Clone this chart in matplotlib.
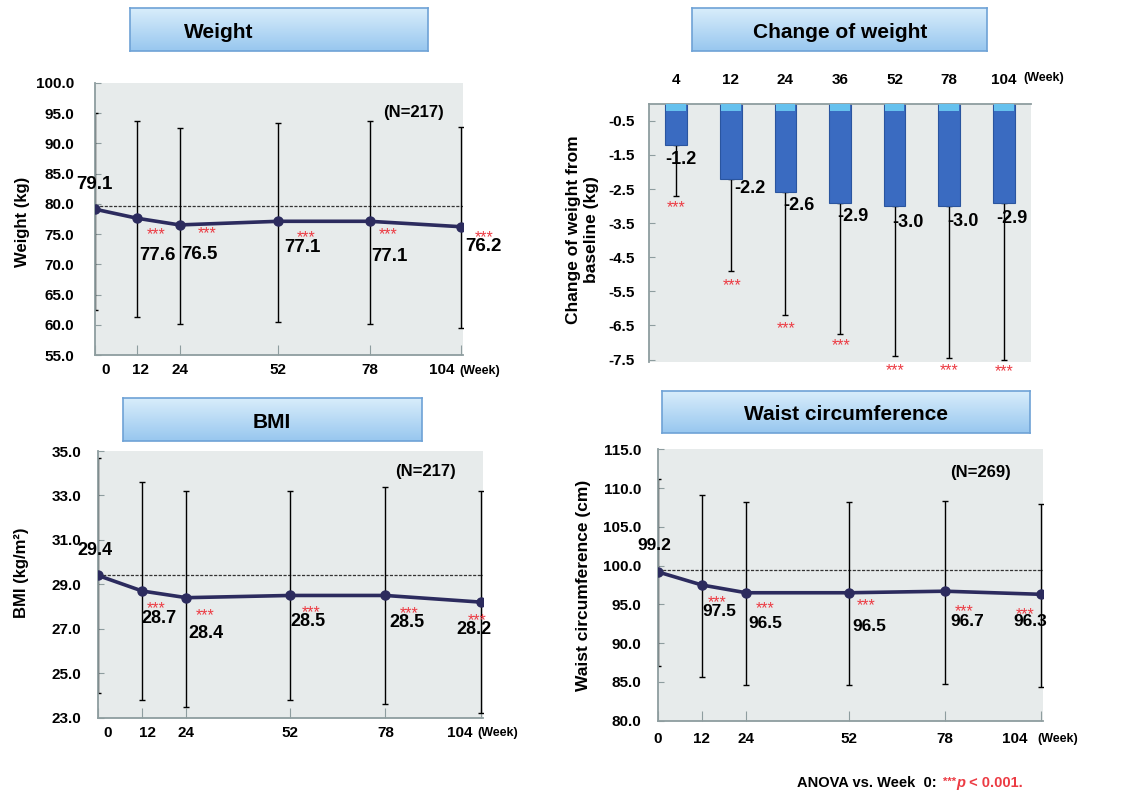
import numpy as np
import matplotlib
matplotlib.use('Agg')
import matplotlib.pyplot as plt
from matplotlib.colors import LinearSegmentedColormap
from matplotlib.transforms import ScaledTranslation

# --- Data ---
WEEKS = [0, 12, 24, 52, 78, 104]

WEIGHT_MEAN = [79.1, 77.6, 76.5, 77.1, 77.1, 76.2]
WEIGHT_LOW = [62.4, 61.3, 60.2, 60.5, 60.2, 59.4]
WEIGHT_HIGH = [95.0, 93.6, 92.6, 93.4, 93.6, 92.7]
WEIGHT_REF = 79.6

BMI_MEAN = [29.4, 28.7, 28.4, 28.5, 28.5, 28.2]
BMI_LOW = [24.1, 23.8, 23.5, 23.8, 23.6, 23.2]
BMI_HIGH = [34.7, 33.6, 33.2, 33.2, 33.4, 33.2]
BMI_REF = 29.4

WAIST_MEAN = [99.2, 97.5, 96.5, 96.5, 96.7, 96.3]
WAIST_LOW = [87.1, 85.7, 84.6, 84.6, 84.7, 84.3]
WAIST_HIGH = [111.2, 109.1, 108.2, 108.2, 108.3, 108.0]
WAIST_REF = 99.4

CHANGE_WEEKS = ['4', '12', '24', '36', '52', '78', '104']
CHANGE_MEAN = [-1.2, -2.2, -2.6, -2.9, -3.0, -3.0, -2.9]
CHANGE_LOW = [-2.7, -4.9, -6.2, -6.75, -7.4, -7.45, -7.5]

# --- Style ---
W, H = 1127, 792
plt.rcParams['font.family'] = ['Liberation Sans', 'DejaVu Sans']
plt.rcParams['font.weight'] = 'bold'
plt.rcParams['axes.unicode_minus'] = False

BG = '#e7ebeb'
SPINE = '#8e9d9f'
LINE = '#2c2b5e'
STAR = '#ec3b43'
BAR = '#3a6bc1'
BAR_EDGE = '#2a559f'
BAR_TOP = '#66c1ee'
STAR_FS = 11.5
STAR_SHIFT = 5  # asterisks sit high in the text box


def fig_rect(x0, y0, x1, y1):
    return [x0 / W, 1 - y1 / H, (x1 - x0) / W, (y1 - y0) / H]


def annotate_points(ax, xs, ys, texts, offsets, shift=0, **kw):
    for x, y, s, off in zip(xs, ys, texts, offsets):
        if off is None:
            continue
        ax.annotate(s, (x, y), xytext=(off[0], -(off[1] + shift)),
                    textcoords='offset pixels', ha='center', va='center',
                    annotation_clip=False, **kw)


def title_box(fig, rect, text, tx):
    ax = fig.add_axes(fig_rect(*rect))
    cmap = LinearSegmentedColormap.from_list('box', ['#d8edfb', '#98c7ef'])
    ax.imshow(np.linspace(0, 1, 64).reshape(-1, 1), cmap=cmap, aspect='auto',
              extent=[0, 1, 0, 1])
    ax.set_xticks([])
    ax.set_yticks([])
    for sp in ax.spines.values():
        sp.set_color('#6ea2d6')
        sp.set_linewidth(1.2)
    ax.text(tx, 0.43, text, ha='center', va='center', fontsize=15,
            fontweight='bold', transform=ax.transAxes)


def line_panel(ax, mean, low, high, ref, ylim, yticks, label_fs,
               label_off, star_off, xlab_shift, ytick_pad, xtick_pad, week_off):
    ax.set_facecolor(BG)
    mean = np.array(mean)
    yerr = [mean - np.array(low), np.array(high) - mean]
    ax.errorbar(WEEKS, mean, yerr=yerr, fmt='none', ecolor='black',
                elinewidth=1.0, capsize=2.5, capthick=1.0, zorder=2)
    ax.axhline(ref, color='#333333', lw=0.9, ls=(0, (2.5, 1.2)), zorder=1)
    ax.plot(WEEKS, mean, color=LINE, lw=2.6, marker='o', ms=6.5, zorder=3)

    ax.set_xlim(0, 104.5)
    ax.set_ylim(*ylim)
    ax.set_yticks(yticks, labels=[f'{t:.1f}' for t in yticks])
    ax.set_xticks(WEEKS, labels=[str(w) for w in WEEKS])
    for sp in ['top', 'right']:
        ax.spines[sp].set_visible(False)
    for sp in ['left', 'bottom']:
        ax.spines[sp].set_color(SPINE)
        ax.spines[sp].set_linewidth(1.3)
    ax.tick_params(axis='y', direction='in', length=4, color=SPINE,
                   labelsize=11, pad=ytick_pad)
    ax.tick_params(axis='x', direction='in', length=7, color=SPINE,
                   labelsize=11, pad=xtick_pad)
    for lab, dx in zip(ax.get_xticklabels(), xlab_shift):
        lab.set_transform(lab.get_transform() +
                          ScaledTranslation(dx / 100, 0, ax.figure.dpi_scale_trans))

    annotate_points(ax, WEEKS, mean, [f'{v:.1f}' for v in mean], label_off,
                    fontsize=label_fs, fontweight='bold')
    annotate_points(ax, WEEKS, mean, ['***'] * len(mean), star_off,
                    shift=STAR_SHIFT, fontsize=STAR_FS, color=STAR,
                    fontweight='normal')
    ax.annotate('(Week)', xy=(1, 0), xycoords='axes fraction', xytext=week_off,
                textcoords='offset pixels', ha='left', va='center', fontsize=9,
                annotation_clip=False)


fig = plt.figure(figsize=(W / 100, H / 100), dpi=100)

# Weight
ax1 = fig.add_axes(fig_rect(95, 82.75, 463, 355))
line_panel(ax1, WEIGHT_MEAN, WEIGHT_LOW, WEIGHT_HIGH, WEIGHT_REF, (55, 100),
           np.arange(55, 100.1, 5), 13.5,
           [(-1, -25), (20, 37), (20, 30), (24, 26), (20, 35), (22, 20)],
           [None, (19, 11), (27.5, 4), (28, 11), (18.5, 8), (23, 6)],
           [11, 3, 0, 0, 0, -19], 15, 6, (-4, -16))

# BMI
ax3 = fig.add_axes(fig_rect(98, 451, 483, 717.7))
line_panel(ax3, BMI_MEAN, BMI_LOW, BMI_HIGH, BMI_REF, (23, 35),
           np.arange(23, 35.1, 2), 13,
           [(-3, -25), (17, 27.5), (20, 36), (18, 26), (21.6, 27), (-7, 27)],
           [None, (14, 12.4), (19, 13), (21.7, 12), (24, 13.4), (-4.4, 13.3)],
           [10, 5, 0, 0, 0, -21.7], 12, 6, (-6, -15.5))

# Waist circumference
ax4 = fig.add_axes(fig_rect(657.7, 449.3, 1042.7, 720.7))
line_panel(ax4, WAIST_MEAN, WAIST_LOW, WAIST_HIGH, WAIST_REF, (80, 115),
           np.arange(80, 115.1, 5), 12.5,
           [(-3, -26), (17.6, 26), (19, 30.5), (20, 34), (22, 30), (-11, 27)],
           [None, (15, 13), (19, 10.5), (16.7, 8), (19, 15), (-16, 15)],
           [0, 0, 0, 0, 0, -26], 12, 8.3, (-5, -18))

# Change of weight (bars hang down from zero)
ax2 = fig.add_axes(fig_rect(649, 103.7, 1031, 362))
ax2.set_facecolor(BG)
xpos = np.arange(len(CHANGE_WEEKS))
change = np.array(CHANGE_MEAN)
err_lo = change - np.array(CHANGE_LOW)
ax2.errorbar(xpos, change, yerr=[err_lo, np.zeros_like(err_lo)], fmt='none',
             ecolor='black', elinewidth=1.0, capsize=2.5, capthick=1.0, zorder=1)
ax2.bar(xpos, change, width=0.4, color=BAR, edgecolor=BAR_EDGE, lw=0.8, zorder=2)
ax2.bar(xpos, np.full(len(xpos), -0.2), width=0.36, color=BAR_TOP, lw=0, zorder=3)
ax2.set_xlim(-0.5, 6.5)
ax2.set_ylim(-7.57, 0)
yt = np.arange(-0.5, -7.6, -1.0)
ax2.set_yticks(yt, labels=[f'{t:.1f}' for t in yt])
ax2.xaxis.tick_top()
ax2.set_xticks(xpos, labels=CHANGE_WEEKS)
ax2.tick_params(axis='x', length=0, labelsize=11, pad=12)
ax2.tick_params(axis='y', direction='in', length=4, color=SPINE, labelsize=11, pad=10)
for sp in ['bottom', 'right']:
    ax2.spines[sp].set_visible(False)
for sp in ['top', 'left']:
    ax2.spines[sp].set_color(SPINE)
    ax2.spines[sp].set_linewidth(1.3)
annotate_points(ax2, xpos, change, [f'{v:.1f}' for v in change],
                [(5, 14.7), (19, 9.6), (13, 12.6), (12.5, 14), (13, 16.7),
                 (13.7, 15.7), (8.5, 15.7)], fontsize=13, fontweight='bold')
annotate_points(ax2, xpos, CHANGE_LOW, ['***'] * len(xpos),
                [(0, 7), (1, 10), (0.7, 8), (1.2, 6.7), (0.7, 9), (0, 8), (0.5, 7.5)],
                shift=STAR_SHIFT, fontsize=STAR_FS, color=STAR, fontweight='normal')
ax2.annotate('(Week)', xy=(1, 1), xycoords='axes fraction', xytext=(-8, 25.7),
             textcoords='offset pixels', ha='left', va='center', fontsize=9,
             annotation_clip=False)

# Overlay in pixel coordinates for titles, axis labels and footnote
ov = fig.add_axes([0, 0, 1, 1])
ov.set_xlim(0, W)
ov.set_ylim(H, 0)
ov.set_axis_off()
ov.patch.set_visible(False)

ov.text(22.7, 221.7, 'Weight (kg)', rotation=90, ha='center', va='center', fontsize=12)
ov.text(21.7, 573, 'BMI (kg/m²)', rotation=90, ha='center', va='center', fontsize=12)
ov.text(583.3, 585, 'Waist circumference (cm)', rotation=90, ha='center',
        va='center', fontsize=12.5)
ov.text(582.5, 230, 'Change of weight from\nbaseline (kg)', rotation=90,
        ha='center', va='center', fontsize=12.5, multialignment='center')

ov.text(414, 112.7, '(N=217)', ha='center', va='center', fontsize=12)
ov.text(426, 471.7, '(N=217)', ha='center', va='center', fontsize=12)
ov.text(980.7, 472.7, '(N=269)', ha='center', va='center', fontsize=12)

t1 = ov.text(796.7, 783.3, 'ANOVA vs. Week  0:', ha='left', va='center', fontsize=10.5)
t2 = ov.annotate('***', xy=(1, 0.5), xycoords=t1, xytext=(7, 1),
                 textcoords='offset pixels', ha='left', va='center',
                 fontsize=8, color=STAR)
t3 = ov.annotate('p', xy=(1, 0.5), xycoords=(t2, t1), xytext=(0, 0),
                 textcoords='offset pixels', ha='left', va='center',
                 fontsize=10.5, color=STAR, style='italic')
ov.annotate(' < 0.001.', xy=(1, 0.5), xycoords=(t3, t1), xytext=(0, 0),
            textcoords='offset pixels', ha='left', va='center',
            fontsize=10.5, color=STAR)

title_box(fig, (130, 8.3, 427.7, 50.7), 'Weight', 0.299)
title_box(fig, (692.3, 8.3, 986.7, 50.7), 'Change of weight', 0.502)
title_box(fig, (123.3, 398.3, 421.7, 441), 'BMI', 0.499)
title_box(fig, (662.3, 390.7, 1030, 432.7), 'Waist circumference', 0.5)

fig.savefig('out.png', dpi=100, facecolor='white')
